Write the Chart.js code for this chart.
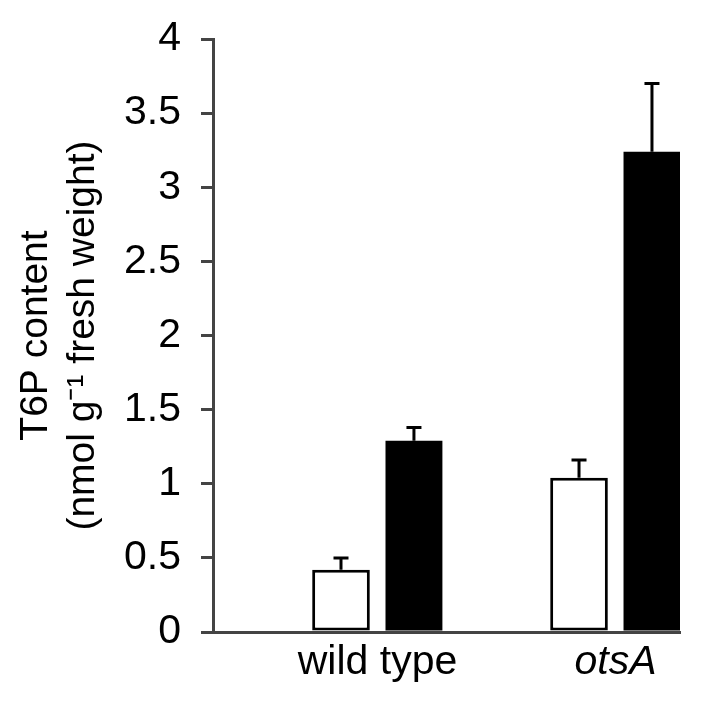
<!DOCTYPE html>
<html>
<head>
<meta charset="utf-8">
<script src="https://cdn.jsdelivr.net/npm/chart.js@4"></script>
<style>
  body { margin: 0; background: #fff; }
  #wrap { width: 707px; height: 706px; }
</style>
</head>
<body>
<div id="wrap"><canvas id="myChart" width="707" height="706"></canvas></div>
<script>
// data
var groups = ['wild type', 'otsA']
var groupPos = [1, 2]
var whiteVals = [0.42, 1.04]
var whiteErr = [0.08, 0.12]
var blackVals = [1.29, 3.24]
var blackErr = [0.09, 0.46]
var yTicks = [0, 0.5, 1, 1.5, 2, 2.5, 3, 3.5, 4]

var fontName = '"Liberation Sans", Arial, sans-serif'
var fontSize = 41
var axisGray = '#444'

// upward-only error bars with a cap
const errorBars = {
    id: 'errorBars',
    afterDatasetsDraw(chart) {
        const ctx = chart.ctx
        const y = chart.scales.y
        chart.data.datasets.forEach((ds, di) => {
            const meta = chart.getDatasetMeta(di)
            meta.data.forEach((bar, i) => {
                const top = y.getPixelForValue(ds.data[i].y + ds.errors[i])
                ctx.save()
                ctx.strokeStyle = '#000'
                ctx.lineWidth = 3
                ctx.beginPath()
                ctx.moveTo(bar.x, bar.y)
                ctx.lineTo(bar.x, top)
                ctx.moveTo(bar.x - 7.5, top)
                ctx.lineTo(bar.x + 7.5, top)
                ctx.stroke()
                ctx.restore()
            })
        })
    }
}

const ctx = document.getElementById('myChart')

new Chart(ctx, {
    type: 'bar',
    data: {
        datasets: [
            {
                label: 'white',
                data: groupPos.map((x, i) => ({x: x, y: whiteVals[i]})),
                errors: whiteErr,
                backgroundColor: '#fff',
                borderColor: '#000',
                borderWidth: 3,
                borderSkipped: false,
                categoryPercentage: 0.613,
                barPercentage: 0.79
            },
            {
                label: 'black',
                data: groupPos.map((x, i) => ({x: x, y: blackVals[i]})),
                errors: blackErr,
                backgroundColor: '#000',
                borderWidth: 0,
                categoryPercentage: 0.613,
                barPercentage: 0.78
            }
        ]
    },
    options: {
        responsive: false,
        animation: false,
        layout: { padding: { left: 0, right: 27, top: 39, bottom: 0 } },
        plugins: {
            legend: { display: false },
            tooltip: { enabled: false }
        },
        scales: {
            x: {
                type: 'linear',
                offset: false,
                min: 0.309,
                max: 2.271,
                afterBuildTicks: (scale) => {
                    scale.ticks = groupPos.map(v => ({value: v}))
                },
                afterFit: (scale) => { scale.height = 74 },
                grid: { display: false, drawTicks: false, offset: false },
                border: { color: axisGray, width: 3 },
                ticks: {
                    color: '#000',
                    padding: 6,
                    autoSkip: false,
                    maxRotation: 0,
                    callback: (v) => groups[groupPos.indexOf(v)],
                    font: (c) => ({
                        family: fontName,
                        size: fontSize,
                        style: (c.tick && c.tick.value === 2) ? 'italic' : 'normal'
                    })
                }
            },
            y: {
                min: 0,
                max: 4,
                afterBuildTicks: (scale) => {
                    scale.ticks = yTicks.map(v => ({value: v}))
                },
                afterFit: (scale) => {
                    scale.width = 213
                    scale.paddingTop = 0
                    scale.paddingBottom = 0
                },
                grid: {
                    drawOnChartArea: false,
                    color: axisGray,
                    lineWidth: 3,
                    tickLength: 12
                },
                border: { color: axisGray, width: 3 },
                ticks: {
                    color: '#000',
                    padding: 20,
                    callback: (v) => String(v),
                    font: { family: fontName, size: fontSize }
                },
                title: {
                    display: true,
                    text: ['T6P content', '(nmol g\u207B\u00B9 fresh weight)'],
                    color: '#000',
                    font: { family: fontName, size: 39 },
                    padding: { top: 13, bottom: 0 }
                }
            }
        }
    },
    plugins: [errorBars]
})
</script>
</body>
</html>
